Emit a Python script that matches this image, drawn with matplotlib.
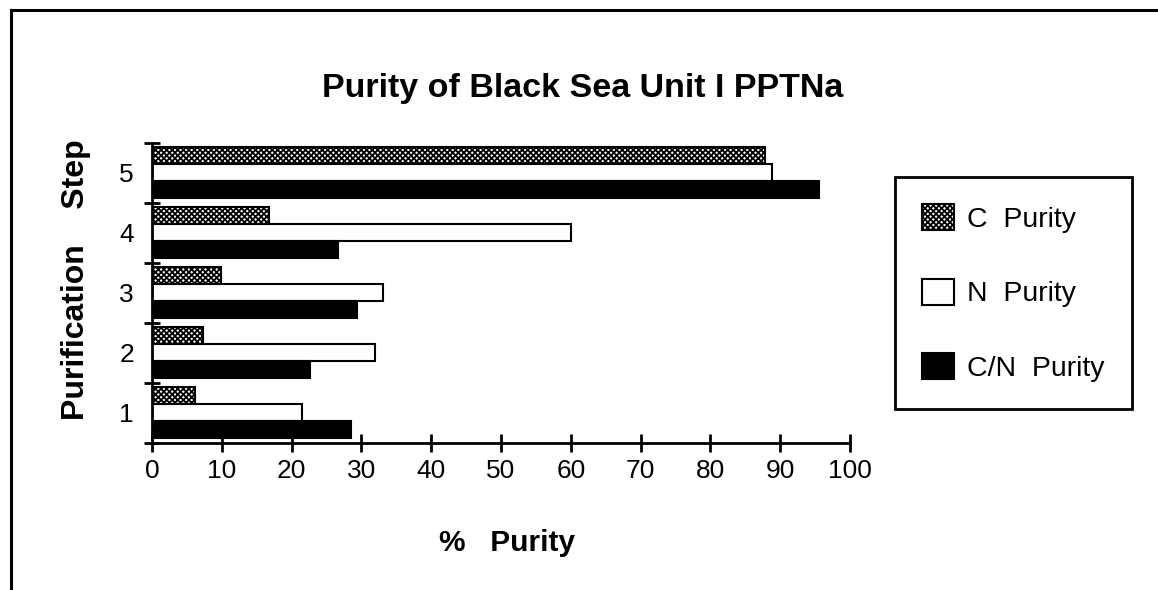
import matplotlib
matplotlib.use("Agg")
import matplotlib.pyplot as plt
from matplotlib.lines import Line2D
import numpy as np

plt.rcParams['font.family'] = ['Liberation Sans', 'DejaVu Sans']
plt.rcParams['hatch.linewidth'] = 1.3

# ---- data ----
steps = [1, 2, 3, 4, 5]
step_labels = ["1", "2", "3", "4", "5"]
c_purity = [6.1, 7.3, 9.9, 16.7, 87.8]
n_purity = [21.5, 32.0, 33.1, 60.1, 88.8]
cn_purity = [28.5, 22.7, 29.4, 26.7, 95.5]
series_names = ["C  Purity", "N  Purity", "C/N  Purity"]
x_ticks = [0, 10, 20, 30, 40, 50, 60, 70, 80, 90, 100]

W, H = 1158, 590
fig = plt.figure(figsize=(W / 100, H / 100), dpi=100)
fig.patch.set_facecolor('white')

ax = fig.add_axes([152 / W, 1 - 442.5 / H, 698 / W, 300 / H])

y = np.array(steps, dtype=float)
bh = 0.28
ec_lw = 1.5
b1 = ax.barh(y + 0.29, c_purity, height=bh, facecolor='white', edgecolor='black',
             hatch='xxxxxx', linewidth=ec_lw, label=series_names[0])
b2 = ax.barh(y + 0.0, n_purity, height=bh, facecolor='white', edgecolor='black',
             linewidth=ec_lw, label=series_names[1])
b3 = ax.barh(y - 0.28, cn_purity, height=bh, facecolor='black', edgecolor='black',
             linewidth=ec_lw, label=series_names[2])

ax.set_xlim(0, 100)
ax.set_ylim(0.5, 5.5)

for s in ['top', 'right']:
    ax.spines[s].set_visible(False)
for s in ['left', 'bottom']:
    ax.spines[s].set_linewidth(2.0)

ax.set_xticks(x_ticks)
ax.set_xticklabels([str(v) for v in x_ticks])
ax.tick_params(axis='x', direction='inout', length=13.5, width=2.0,
               labelsize=19, pad=5)

# boundary ticks (major, no labels) and category labels (minor, no tick line)
ax.set_yticks([s + 0.5 for s in [0] + steps])
ax.set_yticklabels([])
ax.set_yticks(steps, minor=True)
ax.set_yticklabels(step_labels, minor=True)
ax.tick_params(axis='y', which='major', direction='inout', length=11, width=2.0)
ax.tick_params(axis='y', which='minor', length=0, labelsize=19, pad=13)

fig.text(583 / W, 1 - 88 / H, "Purity of Black Sea Unit I PPTNa",
         ha='center', va='center', fontsize=24.5, fontweight='bold')
fig.text(507 / W, 1 - 543 / H, "%   Purity", ha='center', va='center',
         fontsize=21.5, fontweight='bold')
fig.text(76 / W, 1 - 280 / H, "Purification    Step", ha='center', va='center',
         rotation=90, fontsize=23, fontweight='bold')

leg = fig.legend(handles=[b1, b2, b3], labels=series_names,
                 loc='upper left', bbox_to_anchor=(895 / W, 1 - 177 / H),
                 fontsize=20.5, frameon=True, fancybox=False, shadow=False,
                 framealpha=1, edgecolor='black', handlelength=1.13,
                 handleheight=1.05, handletextpad=0.45, labelspacing=1.6,
                 borderpad=0.95, borderaxespad=0)
leg.get_frame().set_linewidth(2.0)

# page border (scan frame)
fig.add_artist(Line2D([11 / W, 11 / W], [0, 1 - 9.5 / H], color='black', lw=2.2,
                      transform=fig.transFigure))
fig.add_artist(Line2D([11 / W, 1], [1 - 9.5 / H, 1 - 9.5 / H], color='black', lw=2.2,
                      transform=fig.transFigure))

fig.savefig("out.png", dpi=100)
